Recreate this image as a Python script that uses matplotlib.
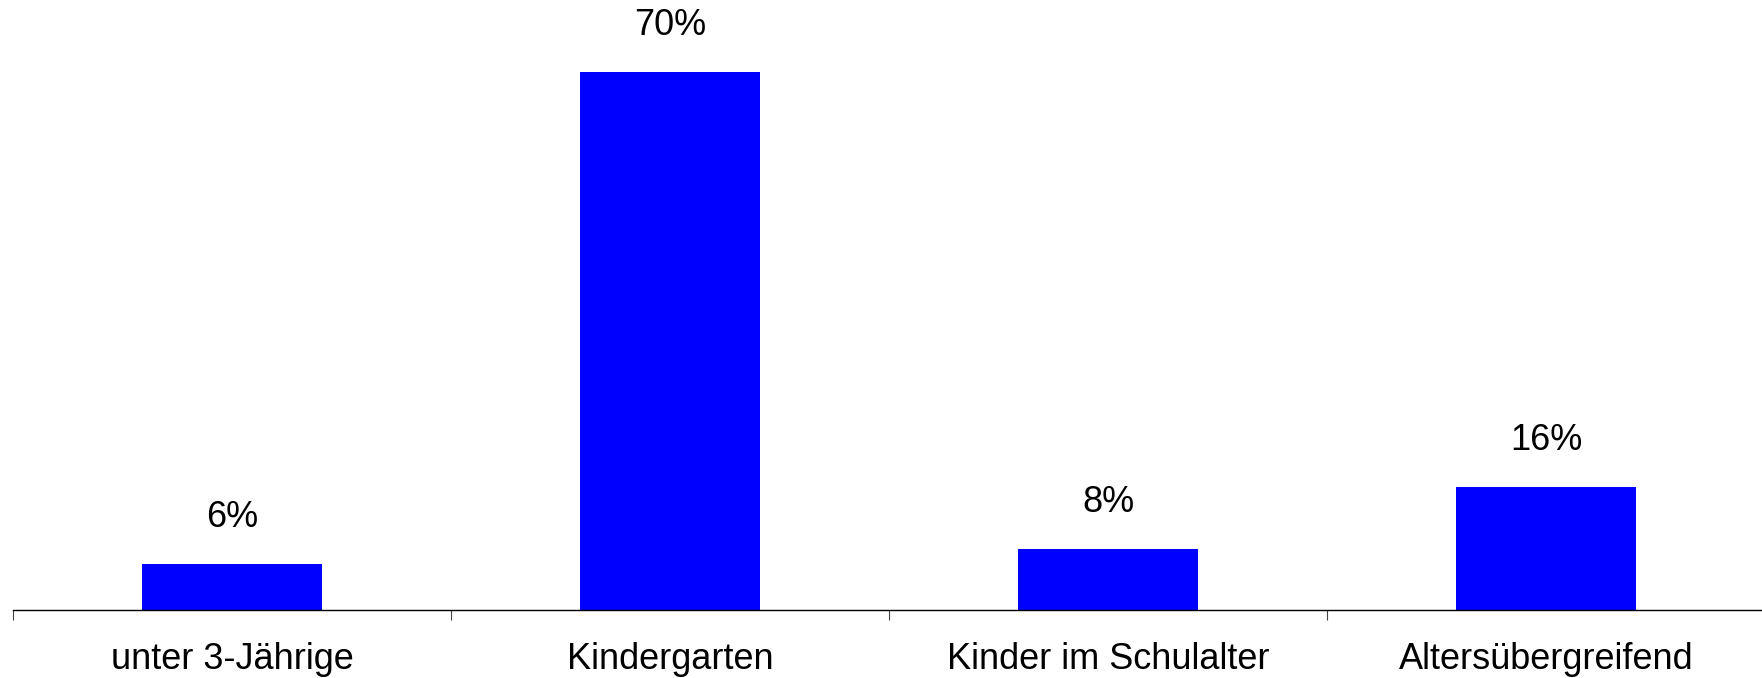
import numpy as np
import matplotlib.pyplot as plt

# ========== Data ==========
categories = ["unter 3-Jährige", "Kindergarten", "Kinder im Schulalter", "Altersübergreifend"]
values = [6, 70, 8, 16]

plt.rcParams["font.family"] = ["Liberation Sans", "DejaVu Sans"]

fig = plt.figure(figsize=(17.62, 6.78), dpi=100)
# axes: left edge at x=13px, baseline at y=610px, top at figure top
ax = fig.add_axes([13 / 1762, (678 - 610) / 678, (1765 - 13) / 1762, 610 / 678])

x = np.arange(len(categories))
bars = ax.bar(x, values, width=0.41, color="#0000ff")

ax.set_xlim(-0.5, len(categories) - 0.5)
ax.set_ylim(0, 79.4)

# value labels above bars
for xi, v in zip(x, values):
    ax.annotate(f"{v}%", xy=(xi, v), xytext=(0, 29), textcoords="offset pixels",
                ha="center", va="bottom", fontsize=26)

# boundaries as tick marks, labels centred
ax.set_xticks(np.arange(len(categories) + 1) - 0.5)
ax.set_xticklabels([])
ax.tick_params(axis="x", which="major", direction="out", length=7, width=0.8, color="#444444")
ax.set_xticks(x, minor=True)
ax.set_xticklabels(categories, minor=True, fontsize=26)
ax.tick_params(axis="x", which="minor", length=0, pad=23)

ax.set_yticks([])
for s in ["top", "right", "left"]:
    ax.spines[s].set_visible(False)
ax.spines["bottom"].set_linewidth(1.0)

fig.savefig("out.png", dpi=100)
